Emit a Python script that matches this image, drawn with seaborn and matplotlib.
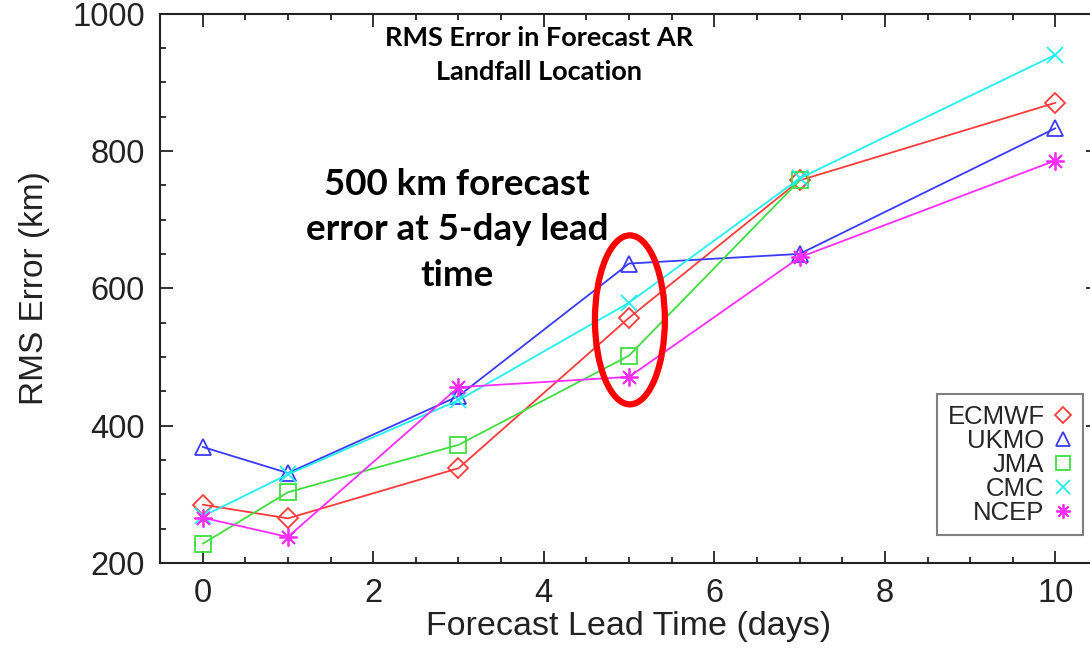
import matplotlib
matplotlib.use("Agg")
import matplotlib.pyplot as plt
from matplotlib.patches import Ellipse
from matplotlib.lines import Line2D
from matplotlib.ticker import MultipleLocator
import seaborn as sns
import pandas as pd

# ---- data ----
centers = ["ECMWF", "UKMO", "JMA", "CMC", "NCEP"]
lead_days = [0, 1, 3, 5, 7, 10]
ecmwf = [285, 265, 338, 557, 757, 870]
ukmo = [369, 331, 443, 636, 650, 833]
jma = [228, 303, 372, 502, 757, None]
cmc = [268, 329, 437, 579, 760, 940]
ncep = [266, 238, 456, 471, 645, 786]
series = [ecmwf, ukmo, jma, cmc, ncep]

title_text = "RMS Error in Forecast AR\nLandfall Location"
note_text = "500 km forecast\nerror at 5-day lead\ntime"
xlabel = "Forecast Lead Time (days)"
ylabel = "RMS Error (km)"

colors = ["#ff3b3b", "#3a3aff", "#3fdf3f", "#22f0f0", "#ff2cff"]
markers = ["D", "^", "s", "x", (8, 2, 0)]
msizes = [10, 12, 12, 12, 13]

rows = []
for name, vals in zip(centers, series):
    for d, v in zip(lead_days, vals):
        if v is not None:
            rows.append({"center": name, "days": d, "rms": v})
df = pd.DataFrame(rows)

sns.set_style("ticks")
plt.rcParams["font.family"] = ["Liberation Sans", "DejaVu Sans"]

fig = plt.figure(figsize=(10.9, 6.53), dpi=100)
ax = fig.add_axes([0.1468, 0.1378, 0.8606, 0.8415])

for name, c, m, ms in zip(centers, colors, markers, msizes):
    sub = df[df["center"] == name]
    sns.lineplot(data=sub, x="days", y="rms", ax=ax, color=c, marker=m,
                 markersize=ms, mfc="none", mec=c, mew=1.3, linewidth=1.3,
                 legend=False)

ax.set_xlim(-0.5, 10.5)
ax.set_ylim(200, 1000)
ax.xaxis.set_major_locator(MultipleLocator(2))
ax.xaxis.set_minor_locator(MultipleLocator(0.5))
ax.yaxis.set_major_locator(MultipleLocator(200))
ax.yaxis.set_minor_locator(MultipleLocator(50))
ax.tick_params(which="both", direction="in", top=True, right=True,
               colors="#222222", width=1.3)
ax.tick_params(which="major", length=9, labelsize=23.5, pad=11)
ax.tick_params(which="minor", length=4.5)
for sp in ax.spines.values():
    sp.set_linewidth(1.5)
    sp.set_color("#222222")

ax.set_xlabel(xlabel, fontsize=24.5, labelpad=1, color="#222222")
ax.set_ylabel(ylabel, fontsize=24, labelpad=16, color="#222222")

handles = [Line2D([], [], linestyle="none", marker=m, markersize=ms * 0.8,
                  mfc="none", mec=c, mew=1.3, color=c)
           for c, m, ms in zip(colors, markers, msizes)]
leg = ax.legend(handles, centers, loc="lower right",
                bbox_to_anchor=(0.984, 0.051), borderaxespad=0,
                markerfirst=False, fontsize=18.5, frameon=True, fancybox=False,
                handlelength=0.8, handletextpad=0.3, labelspacing=0.0,
                borderpad=0.4, framealpha=1)
leg.get_frame().set_edgecolor("#808080")
leg.get_frame().set_linewidth(1.5)

ax.text(539 / 1090, 1 - 55 / 653, title_text, transform=fig.transFigure,
        ha="center", va="center", fontsize=19.5, fontweight="bold",
        color="black", family=["Lato", "DejaVu Sans"], linespacing=1.45)
ax.text(457 / 1090, 1 - 230 / 653, note_text, transform=fig.transFigure,
        ha="center", va="center", fontsize=26.5, fontweight="bold",
        color="black", family=["Lato", "DejaVu Sans"], linespacing=1.45)

ax.add_patch(Ellipse((5.01, 554), width=0.82, height=246, fill=False,
                     edgecolor="#ff0000", linewidth=4.5, zorder=5))

fig.savefig("out.png", dpi=100)
